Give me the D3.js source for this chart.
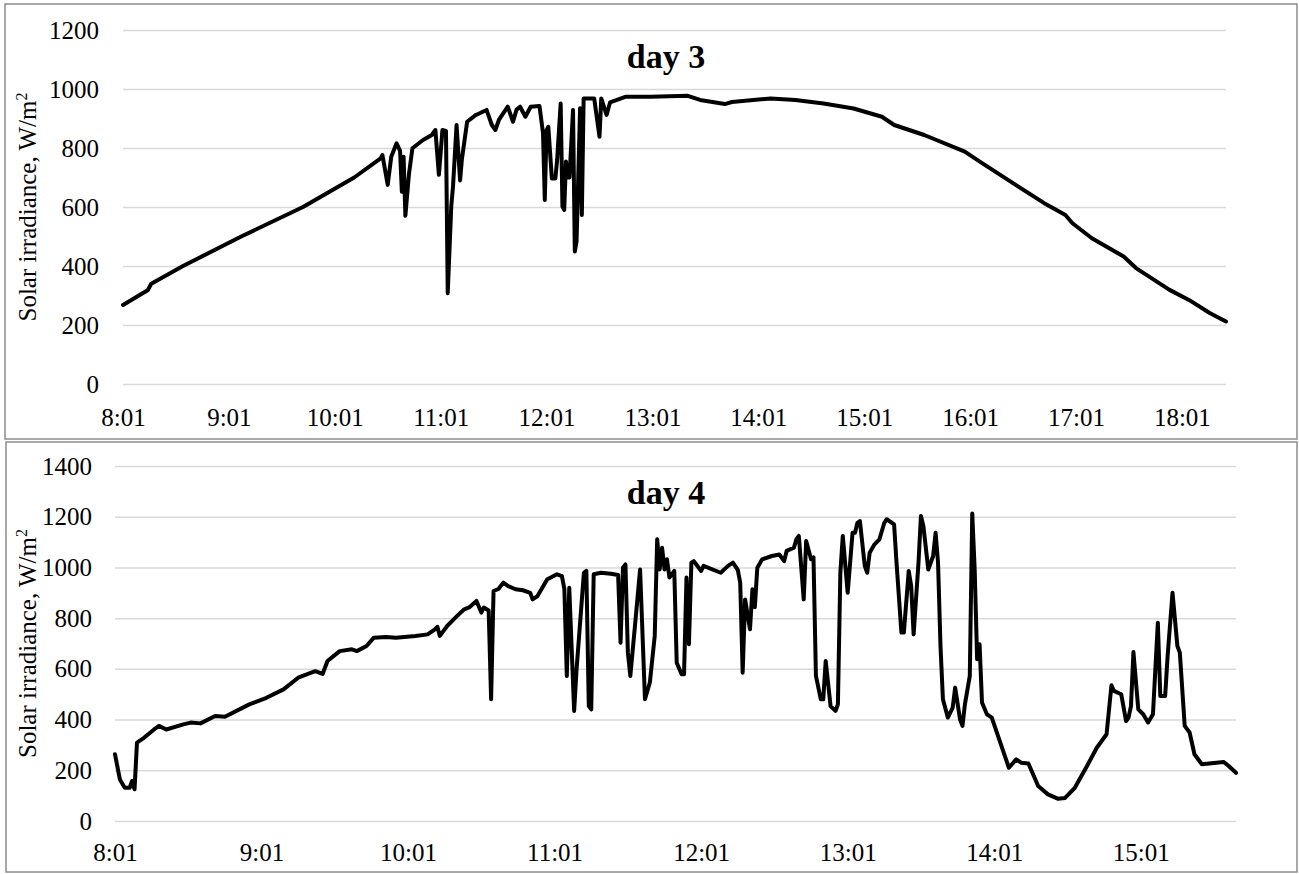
<!DOCTYPE html>
<html>
<head>
<meta charset="utf-8">
<script src="https://cdn.jsdelivr.net/npm/d3@7"></script>
<style>
  body { margin: 0; background: #fff; }
  svg text { font-family: "Times New Roman", "Liberation Serif", serif; fill: #000; }
</style>
</head>
<body>
<svg id="chart" width="1299" height="874"></svg>
<script>
// day 3 readings (time of day, W/m2)
var day3Time = ["8:01","8:10","8:15","8:17","8:35","9:08","9:43","10:12","10:27","10:28",
  "10:31","10:33","10:36","10:38","10:39","10:40","10:41","10:43","10:45","10:51",
  "10:56","10:58","11:00","11:02","11:04","11:05","11:07","11:08","11:10","11:12",
  "11:13","11:16","11:21","11:27","11:30","11:32","11:34","11:39","11:42","11:44",
  "11:46","11:49","11:52","11:57","11:59","12:00","12:01","12:02","12:04","12:06",
  "12:07","12:09","12:10","12:11","12:12","12:13","12:14","12:16","12:17","12:18",
  "12:20","12:21","12:22","12:28","12:31","12:32","12:35","12:37","12:46","13:00",
  "13:21","13:28","13:42","13:46","14:08","14:22","14:38","14:55","15:11","15:18",
  "15:35","15:58","16:08","16:24","16:43","16:55","16:59","17:10","17:28","17:35",
  "17:54","18:05","18:17","18:26"];
var day3Value = [268,300,318,340,400,500,600,700,765,776,
  675,770,816,790,652,770,570,710,799,827,
  844,861,709,861,858,308,602,670,878,690,
  760,889,912,929,878,861,895,940,889,930,
  940,906,940,942,850,624,860,872,697,697,
  760,951,602,590,754,700,700,929,449,483,
  935,573,968,968,838,968,912,955,974,974,
  977,963,949,956,968,963,951,934,906,878,
  844,788,748,686,613,573,545,494,432,393,
  319,285,240,212];

// day 4 readings
var day4Time = ["8:01","8:03","8:05","8:07","8:08","8:09","8:10","8:13","8:17","8:19",
  "8:22","8:29","8:32","8:36","8:42","8:46","8:56","9:03","9:10","9:16",
  "9:23","9:26","9:28","9:33","9:38","9:40","9:44","9:47","9:52","9:56",
  "10:04","10:09","10:12","10:13","10:14","10:17","10:21","10:24","10:26","10:29",
  "10:31","10:32","10:34","10:35","10:36","10:38","10:40","10:42","10:45","10:48",
  "10:51","10:52","10:54","10:58","11:02","11:04","11:05","11:06","11:07","11:09",
  "11:10","11:13","11:14","11:15","11:16","11:17","11:20","11:24","11:27","11:28",
  "11:29","11:30","11:31","11:32","11:34","11:36","11:38","11:40","11:42","11:43",
  "11:44","11:45","11:46","11:47","11:48","11:50","11:51","11:53","11:54","11:55",
  "11:56","11:57","11:58","12:01","12:02","12:09","12:12","12:14","12:16","12:17",
  "12:18","12:19","12:21","12:22","12:23","12:24","12:26","12:30","12:33","12:35",
  "12:36","12:39","12:40","12:41","12:43","12:44","12:46","12:47","12:48","12:50",
  "12:51","12:52","12:54","12:56","12:57","12:58","12:59","13:01","13:03","13:04",
  "13:05","13:06","13:08","13:09","13:10","13:12","13:14","13:16","13:17","13:20",
  "13:21","13:23","13:24","13:26","13:27","13:28","13:30","13:31","13:32","13:34",
  "13:36","13:37","13:38","13:39","13:40","13:42","13:44","13:45","13:47","13:48",
  "13:49","13:51","13:52","13:53","13:54","13:55","13:56","13:58","14:00","14:07",
  "14:10","14:12","14:15","14:19","14:23","14:27","14:30","14:34","14:39","14:43",
  "14:47","14:49","14:50","14:53","14:55","14:56","14:57","14:58","15:00","15:02",
  "15:04","15:06","15:08","15:09","15:11","15:12","15:14","15:16","15:17","15:19",
  "15:21","15:23","15:26","15:35","15:37","15:40"];
var day4Value = [263,164,131,131,158,125,309,329,361,375,
  361,381,388,385,414,411,460,486,519,565,
  591,580,631,670,677,670,690,723,726,723,
  730,736,756,766,730,769,808,835,842,868,
  822,842,830,480,907,915,940,926,914,910,
  900,874,887,953,973,966,914,572,920,434,
  600,979,986,453,440,973,979,975,970,703,
  999,1012,664,572,780,992,480,546,730,1111,
  992,1078,992,1032,960,986,624,579,579,960,
  697,1019,1025,986,1006,979,1006,1019,990,940,
  585,874,756,914,843,999,1032,1045,1051,1025,
  1065,1078,1111,1124,874,1104,1032,1040,572,480,
  480,631,453,434,460,979,1124,900,1137,1137,
  1176,1183,1006,979,1058,1091,1111,1176,1190,1170,
  1019,743,743,986,927,736,1019,1203,1163,992,
  1045,1137,1019,690,480,408,447,526,401,375,
  460,572,1213,992,638,697,467,421,408,210,
  243,230,227,138,105,88,91,131,217,289,
  342,535,513,500,394,408,453,666,440,421,
  388,421,782,493,493,650,900,690,664,375,
  349,263,224,233,217,190];

var day3XTicks = ["8:01","9:01","10:01","11:01","12:01","13:01","14:01","15:01","16:01","17:01","18:01"];
var day3YTicks = [0, 200, 400, 600, 800, 1000, 1200];
var day4XTicks = ["8:01","9:01","10:01","11:01","12:01","13:01","14:01","15:01"];
var day4YTicks = [0, 200, 400, 600, 800, 1000, 1200, 1400];

function toMin(s) {
  var p = s.split(':');
  return +p[0] * 60 + +p[1];
}

var svg = d3.select('#chart');

function drawPanel(o) {
  var g = svg.append('g');

  g.append('rect')
    .attr('x', o.box[0]).attr('y', o.box[1])
    .attr('width', o.box[2]).attr('height', o.box[3])
    .attr('fill', '#fff')
    .attr('stroke', '#8c8c8c')
    .attr('stroke-width', 1.5);

  var xScale = d3.scaleLinear()
    .domain([toMin(o.times[0]), toMin(o.times[o.times.length - 1])])
    .range([o.left, o.right]);

  var yScale = d3.scaleLinear()
    .domain([0, d3.max(o.yTicks)])
    .range([o.bottom, o.top]);

  var yAxis = d3.axisLeft(yScale)
    .tickValues(o.yTicks)
    .tickSize(-(o.right - o.left))
    .tickPadding(o.yPad)
    .tickFormat(d3.format('d'));

  var ya = g.append('g')
    .attr('transform', 'translate(' + o.left + ',0)')
    .call(yAxis);
  ya.select('.domain').remove();
  ya.selectAll('line').attr('stroke', '#d9d9d9').attr('stroke-width', 1.5);
  ya.selectAll('text').attr('font-size', 25).style('font-family', '"Times New Roman", "Liberation Serif", serif');

  var xAxis = d3.axisBottom(xScale)
    .tickValues(o.xTicks.map(toMin))
    .tickFormat(function(d, i) { return o.xTicks[i]; })
    .tickSize(0)
    .tickPadding(o.xPad);

  var xa = g.append('g')
    .attr('transform', 'translate(0,' + o.bottom + ')')
    .call(xAxis);
  xa.select('.domain').remove();
  xa.selectAll('text').attr('font-size', 25).style('font-family', '"Times New Roman", "Liberation Serif", serif');

  var line = d3.line()
    .x(function(d) { return xScale(toMin(d[0])); })
    .y(function(d) { return yScale(d[1]); });

  g.append('path')
    .datum(d3.zip(o.times, o.values))
    .attr('d', line)
    .attr('fill', 'none')
    .attr('stroke', '#000')
    .attr('stroke-width', 4)
    .attr('stroke-linejoin', 'round')
    .attr('stroke-linecap', 'round');

  g.append('text')
    .attr('x', o.titleX).attr('y', o.titleY)
    .attr('text-anchor', 'middle')
    .attr('font-size', 34)
    .attr('font-weight', 'bold')
    .text(o.title);

  var yl = g.append('text')
    .attr('transform', 'translate(' + o.labelX + ',' + (o.top + o.bottom) / 2 + ') rotate(-90)')
    .attr('text-anchor', 'middle')
    .attr('font-size', 25);
  yl.append('tspan').text('Solar irradiance, W/m');
  yl.append('tspan').attr('font-size', 16).attr('dy', -9).text('2');
}

drawPanel({
  box: [5, 4, 1292, 435],
  left: 123, right: 1226, top: 30, bottom: 384,
  times: day3Time, values: day3Value,
  xTicks: day3XTicks, yTicks: day3YTicks,
  xPad: 24, yPad: 24,
  title: 'day 3', titleX: 666, titleY: 68,
  labelX: 36
});

drawPanel({
  box: [6, 442, 1291, 430],
  left: 115, right: 1236, top: 466, bottom: 821,
  times: day4Time, values: day4Value,
  xTicks: day4XTicks, yTicks: day4YTicks,
  xPad: 22, yPad: 23,
  title: 'day 4', titleX: 666, titleY: 504,
  labelX: 36
});
</script>
</body>
</html>
